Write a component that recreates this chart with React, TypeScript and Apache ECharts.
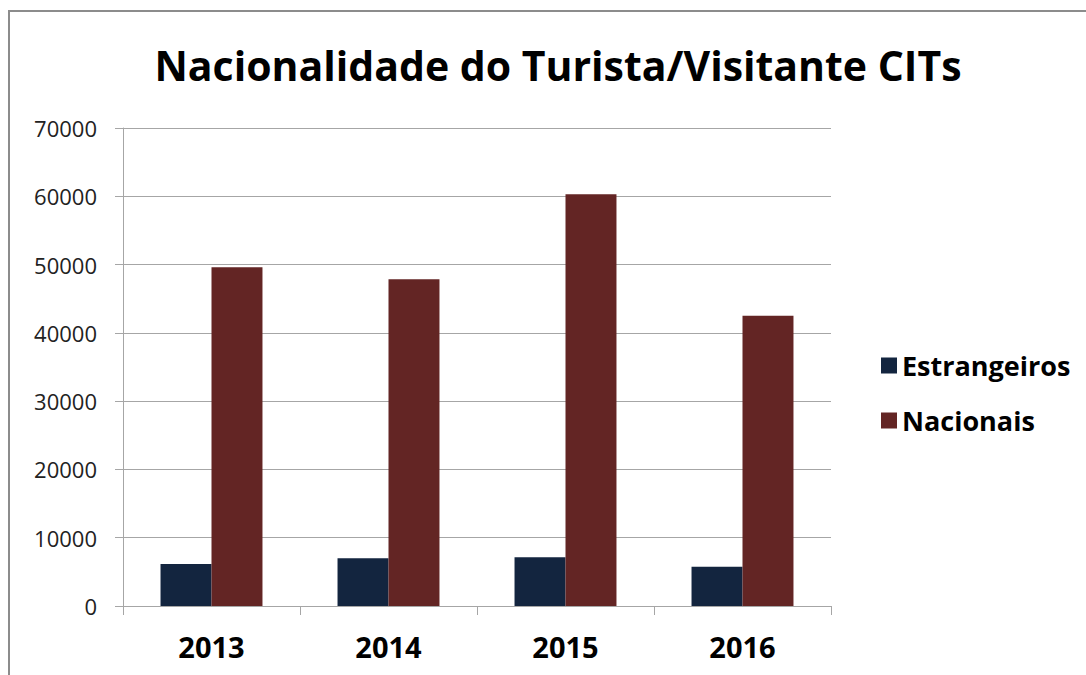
import React, { useEffect, useRef } from "react";
import * as echarts from "echarts";

const categories = ["2013", "2014", "2015", "2016"];
const estrangeiros = [6150, 6990, 7130, 5760];
const nacionais = [49600, 47840, 60290, 42510];
const yTicks = { min: 0, max: 70000, interval: 10000 };

export default function App() {
  const ref = useRef<HTMLDivElement>(null);
  useEffect(() => {
    if (!ref.current) return;
    const chart = echarts.init(ref.current, null, { renderer: "svg" });
    const gray = "#a6a6a6";
    chart.setOption({
      animation: false,
      backgroundColor: "#ffffff",
      graphic: [
        {
          type: "rect",
          shape: { x: 9, y: 11, width: 1200, height: 800 },
          style: { fill: "none", stroke: "#8c8c8c", lineWidth: 2 },
          silent: true,
        },
      ],
      title: {
        text: "Nacionalidade do Turista/Visitante CITs",
        left: 553,
        textAlign: "center",
        top: 39,
        textStyle: {
          fontFamily: "Open Sans",
          fontWeight: "bold",
          fontSize: 41,
          color: "#000000",
        },
      },
      legend: {
        orient: "vertical",
        left: 876,
        top: 347,
        itemWidth: 16,
        itemHeight: 16,
        itemGap: 28,
        icon: "rect",
        textStyle: {
          fontFamily: "Open Sans",
          fontWeight: "bold",
          fontSize: 27,
          color: "#000000",
          padding: [0, 0, 0, 0],
        },
        data: ["Estrangeiros", "Nacionais"],
      },
      grid: { left: 123, top: 128, width: 708, height: 478 },
      xAxis: {
        type: "category",
        data: categories,
        axisLine: { lineStyle: { color: gray, width: 1 } },
        axisTick: { show: true, length: 9, lineStyle: { color: gray } },
        axisLabel: {
          fontFamily: "Open Sans",
          fontWeight: "bold",
          fontSize: 29,
          color: "#000000",
          margin: 26,
        },
      },
      yAxis: {
        type: "value",
        min: yTicks.min,
        max: yTicks.max,
        interval: yTicks.interval,
        axisLine: { show: true, lineStyle: { color: gray, width: 1 } },
        axisTick: { show: true, length: 8, lineStyle: { color: gray } },
        splitLine: { show: true, lineStyle: { color: gray, width: 1 } },
        axisLabel: {
          fontFamily: "Open Sans",
          fontSize: 22,
          color: "#222222",
          margin: 26,
          formatter: (v: number) => String(v),
        },
      },
      series: [
        {
          name: "Estrangeiros",
          type: "bar",
          data: estrangeiros,
          barGap: "0%",
          barCategoryGap: "42.4%",
          itemStyle: { color: "#13253f" },
        },
        {
          name: "Nacionais",
          type: "bar",
          data: nacionais,
          barGap: "0%",
          barCategoryGap: "42.4%",
          itemStyle: { color: "#632524" },
        },
      ],
    });
    return () => chart.dispose();
  }, []);
  return (
    <div
      ref={ref}
      style={{ position: "absolute", left: 0, top: 0, width: 1086, height: 675 }}
    />
  );
}
